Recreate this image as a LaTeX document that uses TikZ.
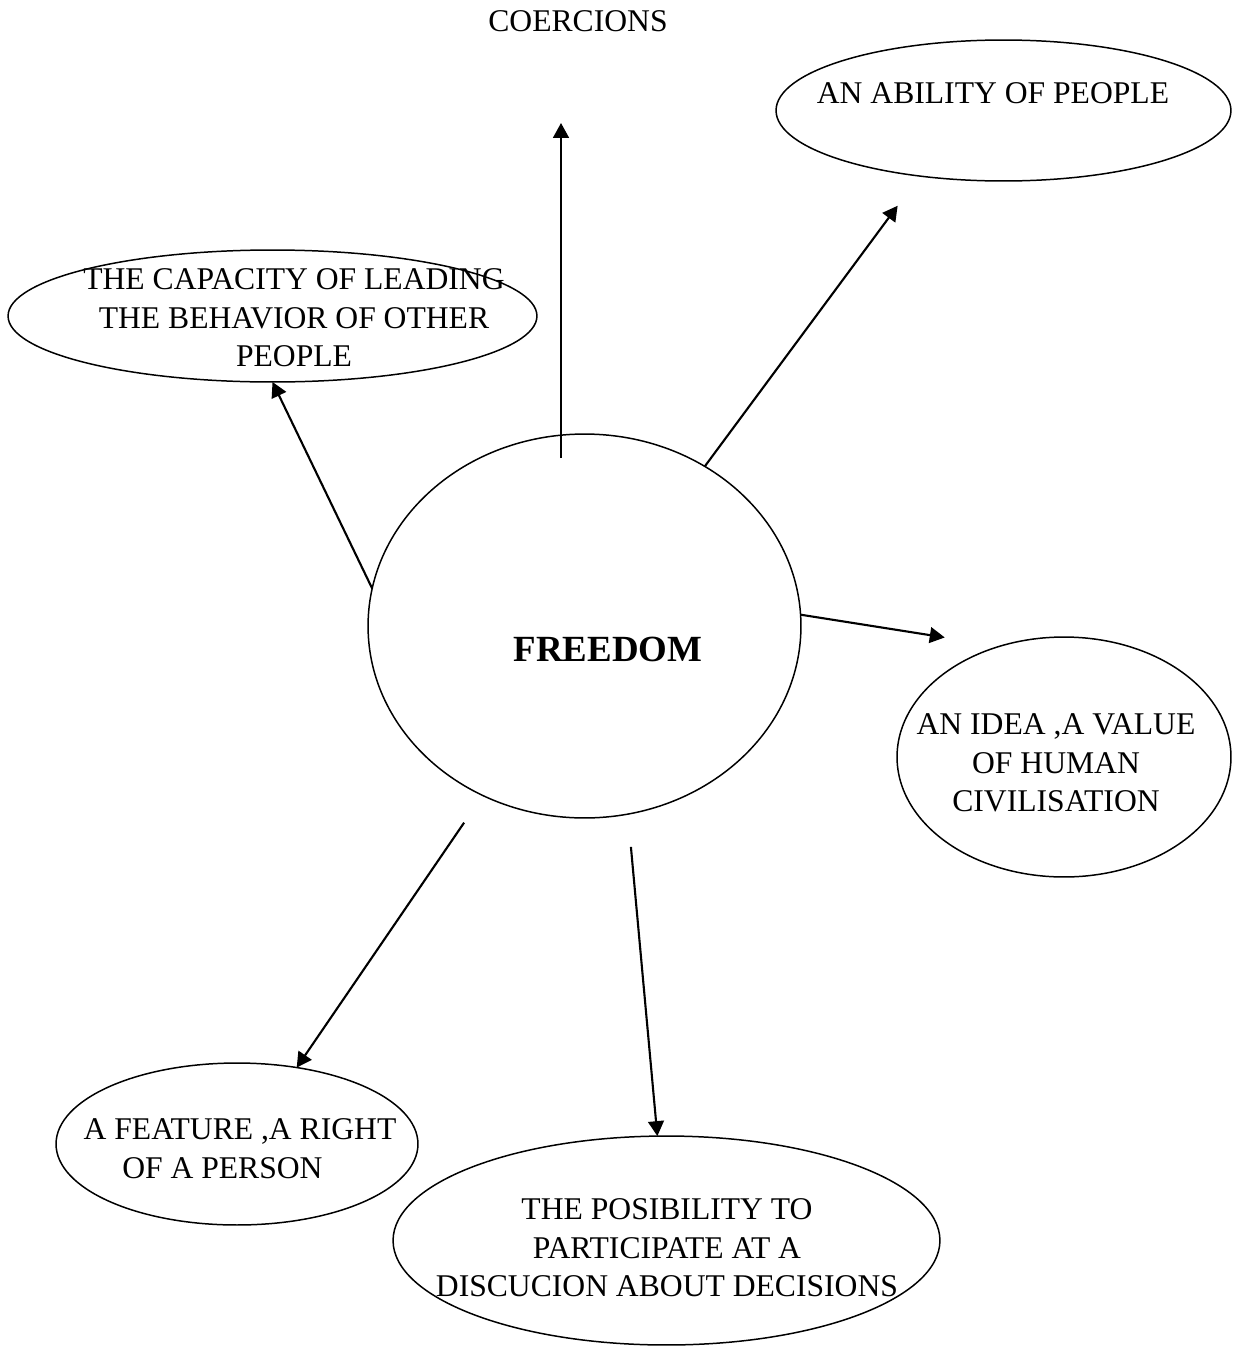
\documentclass[tikz,border=0pt]{standalone}
\usepackage{fontspec}
\setmainfont{Liberation Serif}
\usetikzlibrary{shapes.geometric,arrows.meta}

\begin{document}
\begin{tikzpicture}[x=0.02cm, y=-0.02cm,
    oval/.style={draw, ellipse, line width=0.85pt, inner sep=0pt, outer sep=0pt},
    txt/.style={align=center, inner sep=0pt, font=\fontsize{18}{22}\selectfont},
    arr/.style={line width=1.2pt, -{Triangle[length=8.5pt, width=9pt]}}]
    \useasboundingbox (0,0) rectangle (1233,1352);

    % Centre
    \node[oval, minimum width=8.66cm, minimum height=7.68cm] (freedom) at (584.5,626) {};
    \node[inner sep=0pt, font=\fontsize{21}{25}\selectfont\bfseries] (freedomtxt) at (608,649.5) {FREEDOM};

    % Bubbles
    \node[txt] (coercions) at (578,21) {COERCIONS};
    \coordinate (coerciontip) at (561,123);

    \node[oval, minimum width=10.58cm, minimum height=2.64cm] (capacity) at (272.5,316) {};
    \node[txt] (capacitytxt) at (294,318) {THE CAPACITY OF LEADING\\THE BEHAVIOR OF OTHER\hspace*{16pt}\\PEOPLE};

    \node[oval, minimum width=9.1cm, minimum height=2.82cm] (ability) at (1003.5,110.5) {};
    \node[txt] (abilitytxt) at (993,93) {AN ABILITY OF PEOPLE};

    \node[oval, minimum width=6.68cm, minimum height=4.8cm] (idea) at (1064,757) {};
    \node[txt] (ideatxt) at (1056,763) {AN IDEA ,A VALUE\\OF HUMAN\\CIVILISATION};

    \node[oval, minimum width=7.24cm, minimum height=3.24cm] (feature) at (237,1144) {};
    \node[txt] (featuretxt) at (240,1148.5) {A FEATURE ,A RIGHT\\OF A PERSON\hspace*{20pt}};

    \node[oval, minimum width=10.94cm, minimum height=4.18cm] (posib) at (666.5,1240.5) {};
    \node[txt] (posibtxt) at (667,1248) {THE POSIBILITY TO\\PARTICIPATE AT A\hspace*{19pt}\\DISCUCION ABOUT DECISIONS};

    % Arrows
    \draw[arr, shorten <=-0.46cm] (coerciontip |- freedom.97) -- (coerciontip);
    \draw[arr] (freedom.170) -- (capacity.south);
    \draw[arr, shorten >=0.74cm] (freedom.53) -- (ability.218);
    \draw[arr, shorten >=1.12cm] (freedom.3) -- (idea.120);
    \draw[arr, shorten <=0.66cm] (freedom.239) -- (feature.52);
    \draw[arr, shorten <=0.66cm] (freedom.283) -- (posib.95);
\end{tikzpicture}
\end{document}
